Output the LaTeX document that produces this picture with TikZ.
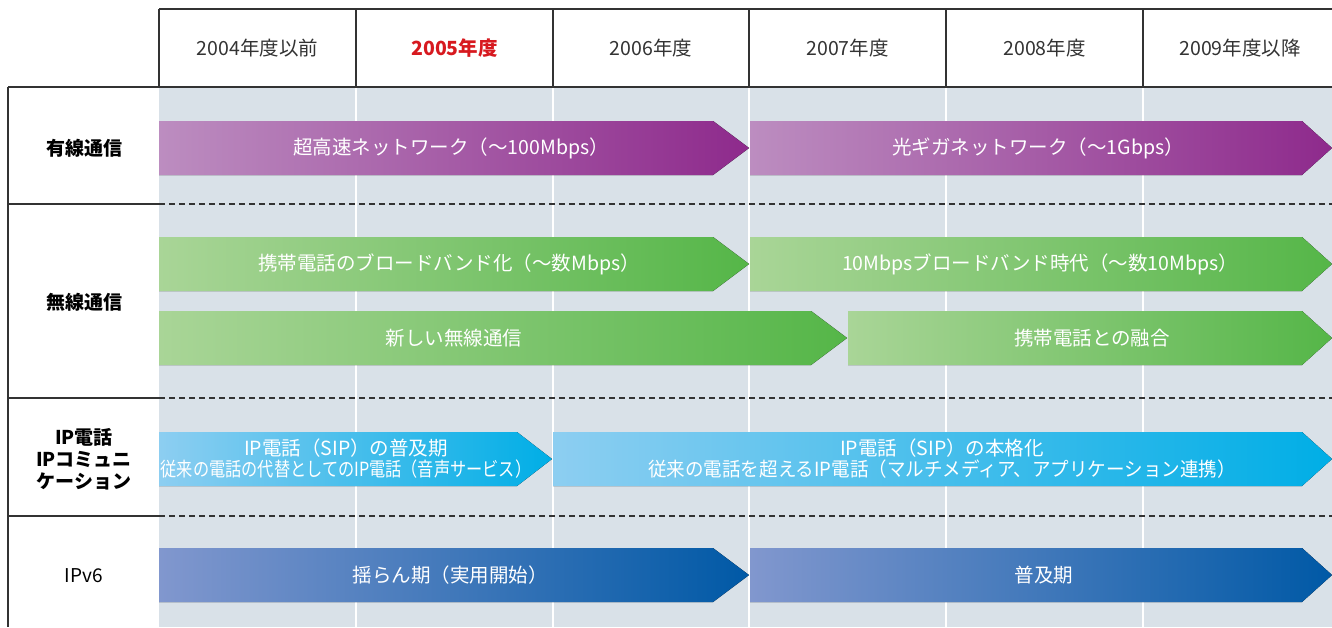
\documentclass[tikz,border=0pt]{standalone}
\usepackage{fontspec}
\setmainfont{Noto Sans CJK JP}
\definecolor{bgc}{HTML}{D9E1E8}
\definecolor{linec}{HTML}{333333}
\definecolor{purL}{HTML}{BC8DC0}
\definecolor{purR}{HTML}{8E2A8C}
\definecolor{grnL}{HTML}{A9D597}
\definecolor{grnR}{HTML}{55B648}
\definecolor{bluL}{HTML}{8DCEF1}
\definecolor{bluR}{HTML}{00AEE6}
\definecolor{navL}{HTML}{8197CE}
\definecolor{navR}{HTML}{0059A6}
\definecolor{redc}{HTML}{D7191F}
% #1 x start, #2 x tip, #3 y top, #4 y bottom, #5 head length, #6 left colour, #7 right colour
\newcommand\tlbar[7]{%
  \fill[left color=#6, right color=#7]
    (#1,#3) -- ({#2-#5},#3) -- (#2,{(#3+#4)/2}) -- ({#2-#5},#4) -- (#1,#4) -- cycle;}
\begin{document}
\begin{tikzpicture}[x=1pt,y=-1pt,
  yeartext/.style={text=linec, font=\fontsize{19.5}{22}\selectfont, inner sep=0pt},
  rowlabel/.style={text=black, font=\fontsize{19}{22}\selectfont\bfseries, align=center, inner sep=0pt},
  bartext/.style={text=white, font=\fontsize{19.5}{21}\selectfont, align=center, inner sep=0pt},
  frame/.style={draw=linec, line width=1.2pt},
  sep/.style={draw=linec, line width=1.1pt, dash pattern=on 6pt off 4pt},
  colsep/.style={draw=white, line width=2pt}]
\useasboundingbox (0,0) rectangle (1332,627);
% shaded timeline area
\fill[bgc] (159,87) rectangle (1332,627);
\foreach \x in {356,553,749,946,1143} \draw[colsep] (\x,87) -- (\x,627);
% row separators
\foreach \y in {204,398,516} {
  \draw[frame] (8,\y) -- (159,\y);
  \draw[sep] (159,\y) -- (1332,\y);
}
% header frame
\draw[frame] (159,9) -- (1332,9);
\foreach \x in {159,356,553,749,946,1143} \draw[frame] (\x,9) -- (\x,87);
\draw[frame] (8,87) -- (1332,87);
\draw[frame] (8,87) -- (8,627);
% header labels
\node[yeartext] (h1) at (257.5,48) {2004年度以前};
\node[yeartext, text=redc, font=\fontsize{19.5}{22}\selectfont\bfseries] (h2) at (454.5,48) {2005年度};
\node[yeartext] (h3) at (651,48) {2006年度};
\node[yeartext] (h4) at (847.5,48) {2007年度};
\node[yeartext] (h5) at (1044.5,48) {2008年度};
\node[yeartext] (h6) at (1240,48) {2009年度以降};
% row labels
\node[rowlabel] (l1) at (84,148) {有線通信};
\node[rowlabel] (l2) at (84,302) {無線通信};
\node[rowlabel] (l3) at (84,459) {IP電話\\IPコミュニ\\ケーション};
\node[rowlabel, font=\fontsize{19}{22}\selectfont] (l4) at (84,576) {IPv6};
% bars
\tlbar{159}{749}{121}{175}{36}{purL}{purR}
\tlbar{750}{1332}{121}{175}{30}{purL}{purR}
\tlbar{159}{749}{237}{291}{36}{grnL}{grnR}
\tlbar{750}{1332}{237}{291}{30}{grnL}{grnR}
\tlbar{159}{847}{311}{365}{36}{grnL}{grnR}
\tlbar{848}{1332}{311}{365}{30}{grnL}{grnR}
\tlbar{159}{552}{432}{486}{35}{bluL}{bluR}
\tlbar{553}{1332}{432}{486}{30}{bluL}{bluR}
\tlbar{159}{749}{548}{602}{36}{navL}{navR}
\tlbar{750}{1332}{548}{602}{30}{navL}{navR}
% bar texts
\node[bartext] (b1) at (451,148) {超高速ネットワーク（～100Mbps）};
\node[bartext] (b2) at (1038,148) {光ギガネットワーク（～1Gbps）};
\node[bartext] (b3) at (449,264) {携帯電話のブロードバンド化（～数Mbps）};
\node[bartext] (b4) at (1040,264) {10Mbpsブロードバンド時代（～数10Mbps）};
\node[bartext] (b5) at (454,338) {新しい無線通信};
\node[bartext] (b6) at (1092,338) {携帯電話との融合};
\node[bartext] (b7) at (346,459) {IP電話（SIP）の普及期\\\scalebox{0.83}[1]{従来の電話の代替としてのIP電話（音声サービス）}};
\node[bartext] (b8) at (942,459) {IP電話（SIP）の本格化\\\scalebox{0.95}[1]{従来の電話を超えるIP電話（マルチメディア、アプリケーション連携）}};
\node[bartext] (b9) at (450,575) {揺らん期（実用開始）};
\node[bartext] (b10) at (1044,575) {普及期};
\end{tikzpicture}
\end{document}
